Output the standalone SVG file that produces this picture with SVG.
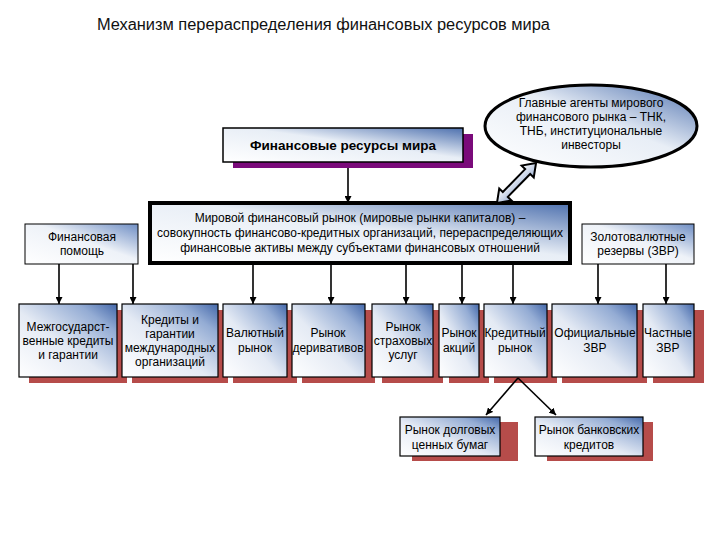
<svg xmlns="http://www.w3.org/2000/svg" width="720" height="540" viewBox="0 0 720 540">
<defs>
<linearGradient id="gBox" x1="0" y1="1" x2="1" y2="0">
<stop offset="0" stop-color="#ffffff"/>
<stop offset="0.45" stop-color="#e4eaf4"/>
<stop offset="0.8" stop-color="#94acd4"/>
<stop offset="1" stop-color="#4468aa"/>
</linearGradient>
<linearGradient id="gLight" x1="0" y1="1" x2="1" y2="0">
<stop offset="0" stop-color="#ffffff"/>
<stop offset="0.55" stop-color="#eef2f8"/>
<stop offset="1" stop-color="#6f8ec4"/>
</linearGradient>
<linearGradient id="gWide" x1="0" y1="1" x2="1" y2="0">
<stop offset="0" stop-color="#ffffff"/>
<stop offset="0.55" stop-color="#e8eef6"/>
<stop offset="1" stop-color="#4d70ae"/>
</linearGradient>
<linearGradient id="gArrow" x1="0" y1="0" x2="0" y2="1">
<stop offset="0" stop-color="#ffffff"/>
<stop offset="1" stop-color="#9fb3d6"/>
</linearGradient>
<marker id="ah" viewBox="0 0 8 8" refX="8" refY="4" markerWidth="7" markerHeight="7" markerUnits="userSpaceOnUse" orient="auto">
<path d="M0,0 L8,4 L0,8 z" fill="#000"/>
</marker>
</defs>
<style>
text{font-family:"Liberation Sans",Arial,sans-serif;font-size:12px;fill:#000;text-anchor:middle}
.title{font-size:16px;text-anchor:start;fill:#111}
.bold{font-weight:bold;font-size:13.5px}
.box{fill:url(#gBox);stroke:#000;stroke-width:1.2}
.lbox{fill:url(#gLight);stroke:#000;stroke-width:1}
.shadow{fill:#b64c4a}
.pshadow{fill:#7a0a7a}
.conn{stroke:#000;stroke-width:1.6;fill:none;marker-end:url(#ah)}
</style>
<rect width="720" height="540" fill="#ffffff"/>
<text class="title" x="97" y="30" textLength="453" lengthAdjust="spacingAndGlyphs">Механизм перераспределения финансовых ресурсов мира</text>

<g id="node-resources">
<rect class="pshadow" x="233" y="134" width="240" height="34"/>
<rect x="223" y="128" width="240" height="34" fill="url(#gWide)" stroke="#000" stroke-width="1.5"/>
<text class="bold" x="343" y="150">Финансовые ресурсы мира</text>
</g>

<g id="node-agents">
<ellipse cx="591" cy="126" rx="106" ry="41" fill="url(#gWide)" stroke="#000" stroke-width="3"/>
<text x="591" y="107">Главные агенты мирового</text>
<text x="591" y="121">финансового рынка – ТНК,</text>
<text x="591" y="135">ТНБ, институциональные</text>
<text x="591" y="149">инвесторы</text>
</g>

<g id="node-market">
<rect x="150" y="203" width="420" height="60" fill="url(#gWide)" stroke="#000" stroke-width="4"/>
<text x="360" y="222">Мировой финансовый рынок (мировые рынки капиталов) –</text>
<text x="360" y="237" textLength="406" lengthAdjust="spacingAndGlyphs">совокупность финансово-кредитных организаций, перераспределяющих</text>
<text x="360" y="252">финансовые активы между субъектами финансовых отношений</text>
</g>

<g id="node-aid">
<rect class="lbox" x="25" y="224" width="113" height="40"/>
<text x="82" y="241">Финансовая</text>
<text x="82" y="255">помощь</text>
</g>

<g id="node-reserves">
<rect class="lbox" x="582" y="224" width="112" height="40"/>
<text x="638" y="241">Золотовалютные</text>
<text x="638" y="255">резервы (ЗВР)</text>
</g>

<g id="node-interstate">
<rect class="shadow" x="29" y="310" width="98" height="73"/>
<rect class="box" x="19" y="304" width="98" height="73"/>
<text x="68" y="331">Межгосударст-</text>
<text x="68" y="345">венные кредиты</text>
<text x="68" y="359">и гарантии</text>
</g>

<g id="node-intorg">
<rect class="shadow" x="132" y="310" width="96" height="73"/>
<rect class="box" x="122" y="304" width="96" height="73"/>
<text x="170" y="324">Кредиты и</text>
<text x="170" y="338">гарантии</text>
<text x="170" y="352">международных</text>
<text x="170" y="366">организаций</text>
</g>

<g id="node-fx">
<rect class="shadow" x="233" y="310" width="64" height="73"/>
<rect class="box" x="223" y="304" width="64" height="73"/>
<text x="255" y="337">Валютный</text>
<text x="255" y="352">рынок</text>
</g>

<g id="node-deriv">
<rect class="shadow" x="302" y="310" width="73" height="73"/>
<rect class="box" x="292" y="304" width="73" height="73"/>
<text x="328" y="337">Рынок</text>
<text x="328" y="352">деривативов</text>
</g>

<g id="node-insurance">
<rect class="shadow" x="382" y="310" width="61" height="73"/>
<rect class="box" x="372" y="304" width="61" height="73"/>
<text x="403" y="331">Рынок</text>
<text x="403" y="345">страховых</text>
<text x="403" y="359">услуг</text>
</g>

<g id="node-stocks">
<rect class="shadow" x="449" y="310" width="40" height="73"/>
<rect class="box" x="439" y="304" width="40" height="73"/>
<text x="459" y="337">Рынок</text>
<text x="459" y="352">акций</text>
</g>

<g id="node-credit">
<rect class="shadow" x="494" y="310" width="63" height="73"/>
<rect class="box" x="484" y="304" width="63" height="73"/>
<text x="515" y="337">Кредитный</text>
<text x="515" y="352">рынок</text>
</g>

<g id="node-official">
<rect class="shadow" x="562" y="310" width="85" height="73"/>
<rect class="box" x="552" y="304" width="85" height="73"/>
<text x="595" y="337">Официальные</text>
<text x="595" y="352">ЗВР</text>
</g>

<g id="node-private">
<rect class="shadow" x="653" y="310" width="51" height="73"/>
<rect class="box" x="643" y="304" width="51" height="73"/>
<text x="668" y="337">Частные</text>
<text x="668" y="352">ЗВР</text>
</g>

<g id="node-debt">
<rect class="shadow" x="412" y="422" width="106" height="39"/>
<rect class="box" x="400" y="417" width="100" height="39"/>
<text x="450" y="434">Рынок долговых</text>
<text x="450" y="449">ценных бумаг</text>
</g>

<g id="node-bank">
<rect class="shadow" x="547" y="422" width="106" height="39"/>
<rect class="box" x="535" y="417" width="108" height="39"/>
<text x="589" y="434">Рынок банковских</text>
<text x="589" y="449">кредитов</text>
</g>

<g id="connectors">
<line class="conn" x1="348" y1="168" x2="348" y2="203"/>
<line class="conn" x1="59" y1="264" x2="59" y2="304"/>
<line class="conn" x1="133" y1="264" x2="133" y2="304"/>
<line class="conn" x1="253" y1="265" x2="253" y2="304"/>
<line class="conn" x1="331" y1="265" x2="331" y2="304"/>
<line class="conn" x1="406" y1="265" x2="406" y2="304"/>
<line class="conn" x1="462" y1="265" x2="462" y2="304"/>
<line class="conn" x1="513" y1="265" x2="513" y2="304"/>
<line class="conn" x1="598" y1="264" x2="598" y2="304"/>
<line class="conn" x1="666" y1="264" x2="666" y2="304"/>
<line class="conn" x1="518" y1="378" x2="486" y2="415"/>
<line class="conn" x1="518" y1="378" x2="556" y2="415"/>
<g transform="translate(516.5,183) rotate(-45.7)">
<polygon points="-28,0 -16,-8.5 -16,-3.5 16,-3.5 16,-8.5 28,0 16,8.5 16,3.5 -16,3.5 -16,8.5" fill="url(#gArrow)" stroke="#000" stroke-width="2" stroke-linejoin="miter"/>
</g>
</g>
</svg>
